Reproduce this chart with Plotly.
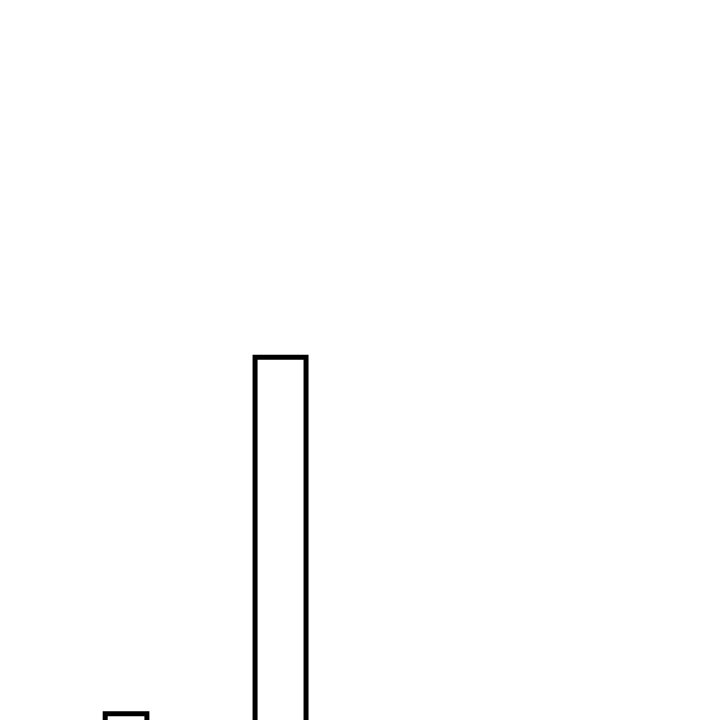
import plotly.graph_objects as go

# only two bars show in the crop, both run off the bottom edge
positions = [0, 1]
values = [20, 70]

fig = go.Figure()

fig.add_trace(
    go.Bar(x=positions, y=values, width=[0.27, 0.33],
           marker=dict(color="white", line=dict(color="black", width=5)))
)

fig.update_xaxes(range=[-0.764, 3.896], visible=False)
fig.update_yaxes(range=[18.0, 119.0], visible=False)
fig.update_layout(width=720, height=720, margin=dict(l=0, r=0, t=0, b=0),
                  plot_bgcolor="white", paper_bgcolor="white", showlegend=False)
fig.write_html("out.html")
